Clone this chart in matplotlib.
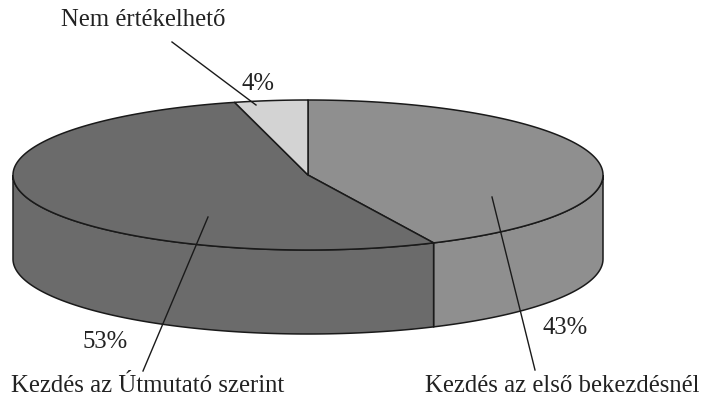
import numpy as np
import matplotlib.pyplot as plt
from matplotlib.patches import Polygon

labels = ['Kezdés az első bekezdésnél', 'Kezdés az Útmutató szerint', 'Nem értékelhető']
values = [43, 53, 4]
colors = ['#8f8f8f', '#6b6b6b', '#d3d3d3']

# pie geometry (pixel space)
cx, cy = 308, 175
ra, rb = 295, 75
depth = 84

plt.rcParams['font.family'] = ['Liberation Serif', 'DejaVu Serif']

fig = plt.figure(figsize=(7.03, 4.0), dpi=100)
ax = fig.add_axes([0, 0, 1, 1])
ax.set_xlim(0, 703)
ax.set_ylim(400, 0)
ax.axis('off')


def arc(t0, t1, dy=0, n=200):
    t = np.radians(np.linspace(t0, t1, n))
    return np.column_stack([cx + ra * np.cos(t), cy - rb * np.sin(t) + dy])


# slice angle ranges, clockwise from the top
total = sum(values)
starts, ends = [], []
ang = 90.0
for v in values:
    starts.append(ang)
    ang -= 360.0 * v / total
    ends.append(ang)

# front side walls
for s, e, c in zip(starts, ends, colors):
    lo, hi = max(e, -180.0), min(s, 0.0)
    if lo < hi:
        top = arc(hi, lo)
        bot = arc(lo, hi, depth)
        ax.add_patch(Polygon(np.vstack([top, bot]), closed=True, fc=c,
                             ec='#1a1a1a', lw=1.1, zorder=1))

# tops
for s, e, c in zip(starts, ends, colors):
    pts = np.vstack([[cx, cy], arc(s, e)])
    ax.add_patch(Polygon(pts, closed=True, fc=c, ec='#1a1a1a', lw=1.1,
                         joinstyle='round', zorder=2))

tc = '#222222'
fs = 17.8
ax.text(143, 20, labels[2], fontsize=fs, color=tc, ha='center', va='center')
ax.text(258, 84, '4%', fontsize=fs, color=tc, ha='center', va='center')
ax.text(105, 342, '53%', fontsize=fs, color=tc, ha='center', va='center')
ax.text(565, 328, '43%', fontsize=fs, color=tc, ha='center', va='center')
ax.text(148, 386, labels[1], fontsize=fs, color=tc, ha='center', va='center')
ax.text(562, 386, labels[0], fontsize=fs, color=tc, ha='center', va='center')

# leader lines
ax.plot([172, 256], [42, 105], color='#1a1a1a', lw=1, zorder=3)
ax.plot([208, 143], [217, 371], color='#1a1a1a', lw=1, zorder=3)
ax.plot([492, 535], [197, 370], color='#1a1a1a', lw=1, zorder=3)

fig.savefig('out.png', dpi=100, facecolor='white')
